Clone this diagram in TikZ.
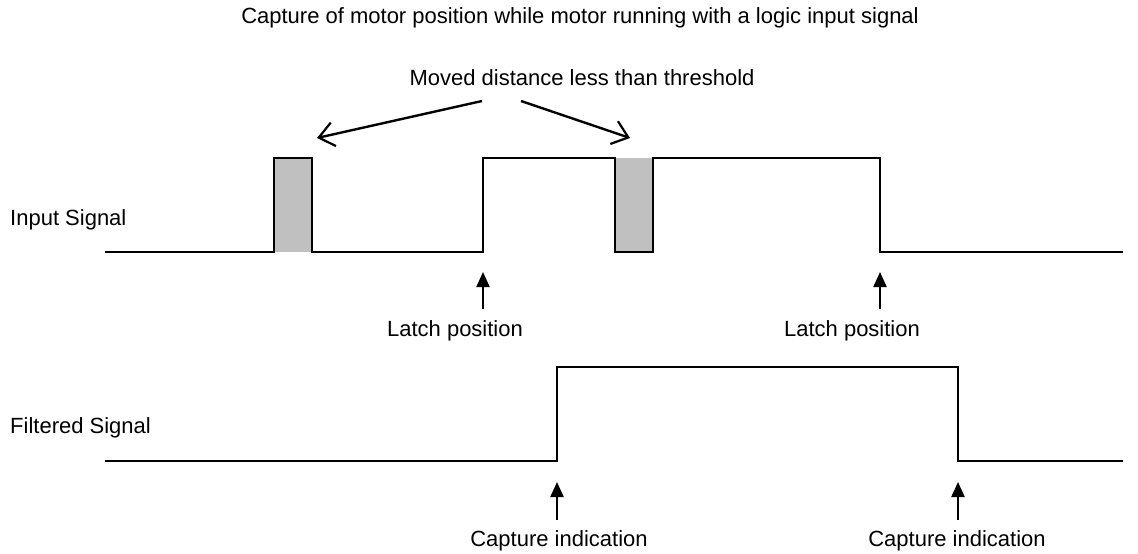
\documentclass[tikz,border=0pt]{standalone}
\usepackage{fontspec}
\setmainfont{Liberation Sans}
\usetikzlibrary{arrows.meta}
\definecolor{pulsegray}{HTML}{C0C0C0}
\begin{document}
\begin{tikzpicture}[x=1pt,y=-1pt,
  lbl/.style={inner sep=0pt,font=\fontsize{22}{26}\selectfont},
  sig/.style={line width=2.2pt,line join=miter},
  uparrow/.style={line width=2.2pt,-{Triangle[length=15pt,width=13pt]}},
  barbarrow/.style={line width=2.4pt,-{Straight Barb[length=15pt,width=24pt,line width=2.2pt]}}]
\useasboundingbox (0,0) rectangle (1138,554);
% titles
\node[lbl] (title) at (580,18) {Capture of motor position while motor running with a logic input signal};
\node[lbl] (moved) at (582,78) {Moved distance less than threshold};
\coordinate (m1) at (482,101);
\coordinate (m2) at (521,101);
\coordinate (t1) at (317,138);
\coordinate (t2) at (630,138);
\draw[barbarrow] (m1) -- (t1);
\draw[barbarrow] (m2) -- (t2);
% row labels
\node[lbl,anchor=west] (inlbl) at (10,220) {Input Signal};
\node[lbl,anchor=west] (filtlbl) at (10,428) {Filtered Signal};
% gray pulses
\fill[pulsegray] (274,158) rectangle (312,252);
\fill[pulsegray] (615,158) rectangle (653,252);
% input signal
\coordinate (i0) at (105,252);
\coordinate (i1) at (274,158);
\coordinate (i2) at (312,252);
\coordinate (i3) at (483,158);
\coordinate (i4) at (615,252);
\coordinate (i5) at (653,158);
\coordinate (i6) at (880,252);
\coordinate (i7) at (1123,252);
\draw[sig] (i0) -| (i1) -| (i2) -| (i3) -| (i4) -| (i5) -| (i6) -- (i7);
% filtered signal
\coordinate (f0) at (105,461);
\coordinate (f1) at (557,367);
\coordinate (f2) at (958,461);
\coordinate (f3) at (1123,461);
\draw[sig] (f0) -| (f1) -| (f2) -- (f3);
% latch arrows
\coordinate (la1) at (483,309);
\coordinate (lt1) at (483,272);
\coordinate (la2) at (880,309);
\coordinate (lt2) at (880,272);
\draw[uparrow] (la1) -- (lt1);
\draw[uparrow] (la2) -- (lt2);
\node[lbl] (latch1) at (455,331) {Latch position};
\node[lbl] (latch2) at (852,331) {Latch position};
% capture arrows
\coordinate (ca1) at (557,520);
\coordinate (ct1) at (557,482);
\coordinate (ca2) at (958,520);
\coordinate (ct2) at (958,482);
\draw[uparrow] (ca1) -- (ct1);
\draw[uparrow] (ca2) -- (ct2);
\node[lbl] (cap1) at (559,541) {Capture indication};
\node[lbl] (cap2) at (957,541) {Capture indication};
\end{tikzpicture}
\end{document}
